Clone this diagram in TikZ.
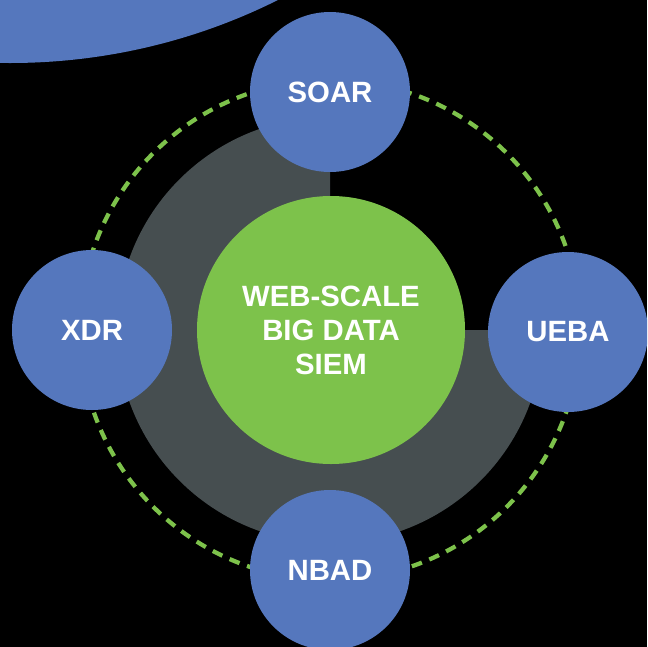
\documentclass[tikz,border=0pt]{standalone}
\usepackage{fontspec}
\setmainfont{Liberation Sans}
\definecolor{satblue}{HTML}{5577BD}
\definecolor{hubgreen}{HTML}{7DC24B}
\definecolor{ringgray}{HTML}{464E50}
\begin{document}
\begin{tikzpicture}[x=0.75pt,y=-0.75pt,
  sat/.style={circle,fill=satblue,minimum size=120pt,inner sep=0pt,text=white,
    font=\bfseries\fontsize{22}{25.5}\selectfont},
  hubnode/.style={circle,fill=hubgreen,minimum size=201pt,inner sep=0pt,text=white,align=center,
    font=\bfseries\fontsize{22}{25.5}\selectfont},
  dashring/.style={draw=hubgreen,line width=3.2pt,dash pattern=on 8pt off 6pt}]
\fill[black] (0,0) rectangle (647,647);
\useasboundingbox (0,0) rectangle (647,647);
\clip (0,0) rectangle (647,647);
% large blue shape top-left
\fill[satblue] (10,-537) circle[radius=600];
% dashed ring
\coordinate (c) at (330,330);
\draw[dashring] (c) circle[radius=250];
% gray three-quarter disc
\fill[ringgray] (c) -- (543,330) arc[start angle=0,end angle=270,radius=213] -- cycle;
% hub
\node[hubnode] (hub) at (331,330) {WEB-SCALE\\BIG DATA\\SIEM};
% satellites
\node[sat] (soar) at (330,92) {\raisebox{-1.5pt}{SOAR}};
\node[sat] (xdr) at (92,330) {XDR};
\node[sat] (ueba) at (568,332) {UEBA};
\node[sat] (nbad) at (330,570) {NBAD};
\end{tikzpicture}
\end{document}
